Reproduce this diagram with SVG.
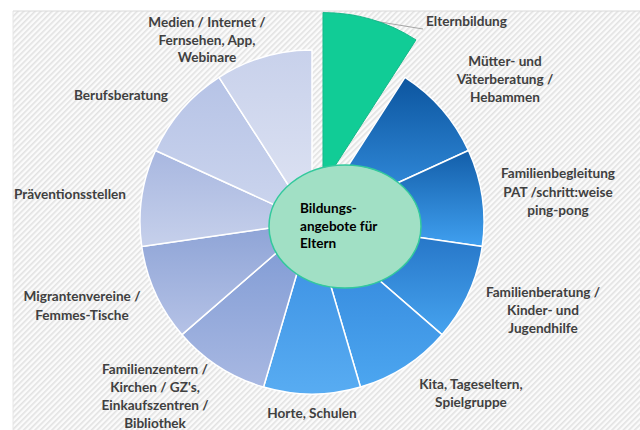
<svg xmlns="http://www.w3.org/2000/svg" width="640" height="430" viewBox="0 0 640 430">
<style>
  .lbl { font-family: Lato, "Open Sans", "Liberation Sans", sans-serif; font-weight: bold; font-size: 13.6px; fill: #404040; text-anchor: middle; }
  .ctr { font-family: Lato, "Open Sans", "Liberation Sans", sans-serif; font-weight: bold; font-size: 13.6px; fill: #000; }
  .sl { stroke: #ffffff; stroke-width: 1.5; stroke-linejoin: round; }
</style>
<defs>
  <pattern id="hatch" patternUnits="userSpaceOnUse" width="4" height="4" patternTransform="rotate(-45)">
    <rect width="4" height="4" fill="#fbfbfb"/>
    <rect width="4" height="1.6" fill="#e2e2e2"/>
  </pattern>
  <linearGradient id="g1" x1="0" y1="0" x2="0" y2="1"><stop offset="0" stop-color="#0c559f"/><stop offset="1" stop-color="#3a97e8"/></linearGradient>
  <linearGradient id="g2" x1="0" y1="0" x2="0" y2="1"><stop offset="0" stop-color="#135ea9"/><stop offset="1" stop-color="#40a0f0"/></linearGradient>
  <linearGradient id="g3" x1="0" y1="0" x2="0" y2="1"><stop offset="0" stop-color="#2270c2"/><stop offset="1" stop-color="#46a3ef"/></linearGradient>
  <linearGradient id="g4" x1="0" y1="0" x2="0" y2="1"><stop offset="0" stop-color="#2f82d8"/><stop offset="1" stop-color="#4ca6f0"/></linearGradient>
  <linearGradient id="g5" x1="0" y1="0" x2="0" y2="1"><stop offset="0" stop-color="#378ce0"/><stop offset="1" stop-color="#58acf2"/></linearGradient>
  <linearGradient id="g6" x1="0" y1="0" x2="0" y2="1"><stop offset="0" stop-color="#7c98d3"/><stop offset="1" stop-color="#a8b8e2"/></linearGradient>
  <linearGradient id="g7" x1="0" y1="0" x2="0" y2="1"><stop offset="0" stop-color="#8da3d6"/><stop offset="1" stop-color="#b5c2e6"/></linearGradient>
  <linearGradient id="g8" x1="0" y1="0" x2="0" y2="1"><stop offset="0" stop-color="#a8b7e0"/><stop offset="1" stop-color="#c6d0eb"/></linearGradient>
  <linearGradient id="g9" x1="0" y1="0" x2="0" y2="1"><stop offset="0" stop-color="#b6c3e6"/><stop offset="1" stop-color="#cdd6ee"/></linearGradient>
  <linearGradient id="g10" x1="0" y1="0" x2="0" y2="1"><stop offset="0" stop-color="#c8d1eb"/><stop offset="1" stop-color="#dfe4f3"/></linearGradient>
  <clipPath id="plot"><rect x="13" y="11" width="627" height="419"/></clipPath>
</defs>

<rect x="0" y="0" width="640" height="430" fill="#ffffff"/>
<rect x="13" y="11" width="627" height="419" fill="url(#hatch)"/>
<line x1="13" y1="11" x2="640" y2="11" stroke="#d9d9d9" stroke-width="1"/>
<line x1="13" y1="11" x2="13" y2="430" stroke="#e6e6e6" stroke-width="1"/>

<g id="connectors">
  <line x1="374" y1="21" x2="423" y2="29" stroke="#a6a6a6" stroke-width="1"/>
</g>

<g id="slice-elternbildung">
  <path d="M322.99,184.58 L322.99,12.58 A172,172 0 0 1 415.97,39.88 Z" fill="#11cc96" stroke="#16b98a" stroke-width="1"/>
  <text class="lbl" x="426" y="26" style="text-anchor:start">Elternbildung</text>
</g>
<g id="slice-muetter">
  <path class="sl" d="M312,222 L404.98,77.30 A172,172 0 0 1 468.45,150.55 Z" fill="url(#g1)"/>
  <text class="lbl" x="505" y="66">Mütter- und<tspan x="505" dy="18">Väterberatung /</tspan><tspan x="505" dy="18">Hebammen</tspan></text>
</g>
<g id="slice-familienbegleitung">
  <path class="sl" d="M312,222 L468.45,150.55 A172,172 0 0 1 482.25,246.48 Z" fill="url(#g2)"/>
  <text class="lbl" x="558" y="178">Familienbegleitung<tspan x="558" dy="18.5">PAT /schritt:weise</tspan><tspan x="558" dy="18.5">ping-pong</tspan></text>
</g>
<g id="slice-familienberatung">
  <path class="sl" d="M312,222 L482.25,246.48 A172,172 0 0 1 441.98,334.64 Z" fill="url(#g3)"/>
  <text class="lbl" x="543" y="297">Familienberatung /<tspan x="543" dy="18">Kinder- und</tspan><tspan x="543" dy="18">Jugendhilfe</tspan></text>
</g>
<g id="slice-kita">
  <path class="sl" d="M312,222 L441.98,334.64 A172,172 0 0 1 360.45,387.03 Z" fill="url(#g4)"/>
  <text class="lbl" x="471" y="389">Kita, Tageseltern,<tspan x="471" dy="18">Spielgruppe</tspan></text>
</g>
<g id="slice-horte">
  <path class="sl" d="M312,222 L360.45,387.03 A172,172 0 0 1 263.55,387.03 Z" fill="url(#g5)"/>
  <text class="lbl" x="312" y="418">Horte, Schulen</text>
</g>
<g id="slice-familienzentren">
  <path class="sl" d="M312,222 L263.55,387.03 A172,172 0 0 1 182.02,334.64 Z" fill="url(#g6)"/>
  <text class="lbl" x="155" y="374">Familienzentern /<tspan x="155" dy="18">Kirchen / GZ's,</tspan><tspan x="155" dy="18">Einkaufszentren /</tspan><tspan x="155" dy="18">Bibliothek</tspan></text>
</g>
<g id="slice-migranten">
  <path class="sl" d="M312,222 L182.02,334.64 A172,172 0 0 1 141.75,246.48 Z" fill="url(#g7)"/>
  <text class="lbl" x="82" y="301">Migrantenvereine /<tspan x="82" dy="18.5">Femmes-Tische</tspan></text>
</g>
<g id="slice-praevention">
  <path class="sl" d="M312,222 L141.75,246.48 A172,172 0 0 1 155.55,150.55 Z" fill="url(#g8)"/>
  <text class="lbl" x="70" y="199" clip-path="url(#plot)">Präventionsstellen</text>
</g>
<g id="slice-berufsberatung">
  <path class="sl" d="M312,222 L155.55,150.55 A172,172 0 0 1 219.02,77.30 Z" fill="url(#g9)"/>
  <text class="lbl" x="121" y="100">Berufsberatung</text>
</g>
<g id="slice-medien">
  <path class="sl" d="M312,222 L219.02,77.30 A172,172 0 0 1 312,50 Z" fill="url(#g10)"/>
  <text class="lbl" x="207" y="27">Medien / Internet /<tspan x="207" dy="17.5">Fernsehen, App,</tspan><tspan x="207" dy="17.5">Webinare</tspan></text>
</g>

<g id="center">
  <ellipse cx="345" cy="226.5" rx="76" ry="61.5" fill="#a1e0c5" stroke="#33c99c" stroke-width="1.5"/>
  <text class="ctr" x="300" y="213">Bildungs-<tspan x="300" dy="17.5">angebote für</tspan><tspan x="300" dy="17.5">Eltern</tspan></text>
</g>
</svg>
